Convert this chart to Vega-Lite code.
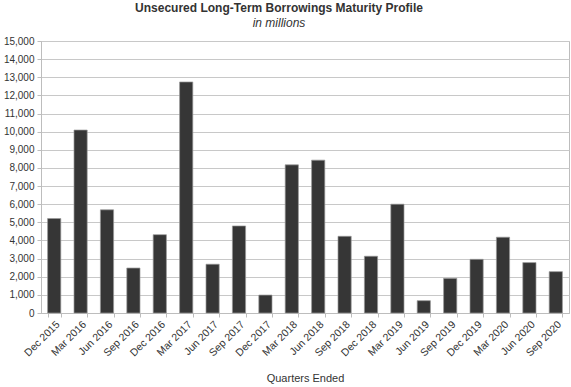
{
  "$schema": "https://vega.github.io/schema/vega-lite/v6.json",
  "autosize": {"type": "none"},
  "padding": {"left": 41, "top": 41, "right": 2, "bottom": 74},
  "width": 528,
  "height": 272,
  "background": "white",
  "title": {
    "text": "Unsecured Long-Term Borrowings Maturity Profile",
    "subtitle": "in millions",
    "anchor": "middle",
    "frame": "group",
    "dx": -26,
    "offset": 6,
    "font": "Liberation Sans",
    "fontSize": 12,
    "fontWeight": "bold",
    "color": "#333333",
    "subtitleFont": "Liberation Sans",
    "subtitleFontSize": 12,
    "subtitleFontStyle": "italic",
    "subtitleColor": "#333333",
    "subtitlePadding": 3
  },
  "config": {
    "view": {"stroke": "#bdbdbd", "strokeWidth": 1},
    "font": "Liberation Sans"
  },
  "data": {
    "values": [
      {"quarter": "Dec 2015", "value": 5210},
      {"quarter": "Mar 2016", "value": 10090},
      {"quarter": "Jun 2016", "value": 5690},
      {"quarter": "Sep 2016", "value": 2480},
      {"quarter": "Dec 2016", "value": 4320},
      {"quarter": "Mar 2017", "value": 12740},
      {"quarter": "Jun 2017", "value": 2690},
      {"quarter": "Sep 2017", "value": 4800},
      {"quarter": "Dec 2017", "value": 990},
      {"quarter": "Mar 2018", "value": 8170},
      {"quarter": "Jun 2018", "value": 8430},
      {"quarter": "Sep 2018", "value": 4230},
      {"quarter": "Dec 2018", "value": 3130},
      {"quarter": "Mar 2019", "value": 6000},
      {"quarter": "Jun 2019", "value": 680},
      {"quarter": "Sep 2019", "value": 1910},
      {"quarter": "Dec 2019", "value": 2960},
      {"quarter": "Mar 2020", "value": 4180},
      {"quarter": "Jun 2020", "value": 2780},
      {"quarter": "Sep 2020", "value": 2280}
    ]
  },
  "mark": {"type": "bar", "color": "#363636", "stroke": "#9a9a9a", "strokeWidth": 0.7},
  "encoding": {
    "x": {
      "field": "quarter",
      "type": "nominal",
      "sort": null,
      "scale": {"paddingInner": 0.5, "paddingOuter": 0.25},
      "axis": {
        "title": "Quarters Ended",
        "titleFont": "Liberation Sans",
        "titleFontSize": 11,
        "titleFontWeight": "normal",
        "titleColor": "#333333",
        "titlePadding": 14,
        "labelAngle": -45,
        "labelAlign": "right",
        "labelBaseline": "top",
        "labelFontSize": 10.5,
        "labelColor": "#333333",
        "labelPadding": 2,
        "tickBand": "extent",
        "tickSize": 4,
        "tickColor": "#bdbdbd",
        "domainColor": "#bdbdbd",
        "grid": false
      }
    },
    "y": {
      "field": "value",
      "type": "quantitative",
      "scale": {"domain": [0, 15000], "nice": false},
      "axis": {
        "title": null,
        "values": [0, 1000, 2000, 3000, 4000, 5000, 6000, 7000, 8000, 9000, 10000, 11000, 12000, 13000, 14000, 15000],
        "format": ",d",
        "labelFontSize": 10,
        "labelColor": "#333333",
        "labelPadding": 3,
        "tickSize": 4,
        "tickColor": "#bdbdbd",
        "domainColor": "#bdbdbd",
        "gridColor": "#c8c8c8",
        "grid": true
      }
    }
  }
}
